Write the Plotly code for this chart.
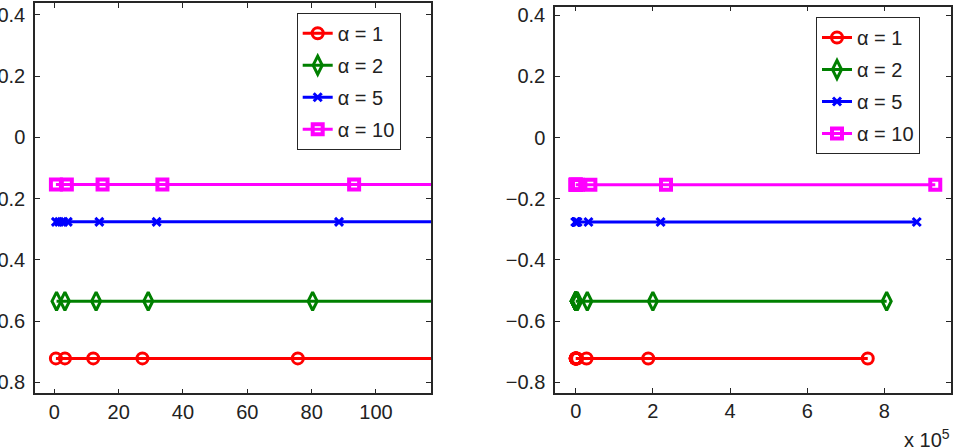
import plotly.graph_objects as go

# ---- data ----
labels = ["α = 1", "α = 2", "α = 5", "α = 10"]
y_levels = [-0.722, -0.535, -0.276, -0.154]

x_a1 = [0.5, 3.3, 12.1, 27.4, 75.7, 520, 3600, 28000, 188000, 757000]
x_a2 = [0.7, 3.3, 13.0, 29.2, 80.3, 600, 4000, 30000, 200000, 806000]
x_a5 = [0.5, 1.5, 2.8, 4.2, 14.0, 31.8, 88.5, 700, 5000, 33000, 220000, 884000]
x_a10 = [0.5, 3.9, 15.0, 33.6, 93.2, 800, 6000, 38000, 234000, 932000]
x_series = [x_a1, x_a2, x_a5, x_a10]

left_xticks = [0, 20, 40, 60, 80, 100]
right_xticks = [0, 200000, 400000, 600000, 800000]
right_xticktext = ["0", "2", "4", "6", "8"]
yticks = [-0.8, -0.6, -0.4, -0.2, 0, 0.2, 0.4]
yticktext = ["-0.8", "-0.6", "-0.4", "-0.2", "0", "0.2", "0.4"]
yticktext_r = ["\u22120.8", "\u22120.6", "\u22120.4", "\u22120.2", "0", "0.2", "0.4"]

# ---- styles ----
colors = ["#FF0000", "#008000", "#0000FF", "#FF00FF"]
symbols = ["circle-open", "diamond-tall-open", "x-thin", "square-open"]
sizes = [11, 13, 8, 10]
mline = [3, 3, 3, 4]
FONT = "Liberation Sans, Arial, Helvetica, sans-serif"
TXT = "#222222"
W, H = 954, 448

fig = go.Figure()
for panel, (xa, ya, lg) in enumerate([("x", "y", "legend"), ("x2", "y2", "legend2")]):
    for i in range(4):
        xs = x_series[i]
        fig.add_trace(go.Scatter(
            x=xs, y=[y_levels[i]] * len(xs),
            mode="lines+markers",
            name=labels[i],
            line=dict(color=colors[i], width=3),
            marker=dict(symbol=symbols[i], size=sizes[i], color=colors[i],
                        line=dict(color=colors[i], width=mline[i])),
            xaxis=xa, yaxis=ya, legend=lg, legendgroup=f"{panel}_{i}",
            showlegend=True, cliponaxis=True,
        ))

axis_common = dict(
    showline=True, linecolor="#262626", linewidth=1.5, mirror="ticks",
    ticks="inside", ticklen=5, tickwidth=1, tickcolor="#262626",
    showgrid=False, zeroline=False, automargin=False,
    tickfont=dict(family=FONT, size=20, color=TXT),
)

legend_common = dict(
    xref="paper", yref="paper", xanchor="left", yanchor="top",
    bgcolor="white", bordercolor="#262626", borderwidth=1,
    font=dict(family=FONT, size=20, color=TXT),
    tracegroupgap=3, traceorder="grouped", entrywidth=80,
)

fig.update_layout(
    width=W, height=H, autosize=False,
    margin=dict(l=0, r=0, t=0, b=0, pad=0, autoexpand=False),
    paper_bgcolor="white", plot_bgcolor="white",
    xaxis=dict(domain=[35 / W, 431 / W], range=[-6.0, 117.1],
               tickvals=left_xticks, anchor="y", **axis_common),
    yaxis=dict(domain=[1 - 393.3 / H, 1 - 3.3 / H], range=[-0.836, 0.438],
               tickvals=yticks, ticktext=yticktext, anchor="x",
               ticklabelstandoff=4, **axis_common),
    xaxis2=dict(domain=[555 / W, 950.7 / W], range=[-53700, 972000],
                tickvals=right_xticks, ticktext=right_xticktext, anchor="y2", **axis_common),
    yaxis2=dict(domain=[1 - 392.7 / H, 1 - 6.7 / H], range=[-0.834, 0.428],
                tickvals=yticks, ticktext=yticktext_r, anchor="x2",
                ticklabelstandoff=4, **axis_common),
    legend=dict(x=296.7 / W, y=1 - 12.7 / H, **legend_common),
    legend2=dict(x=816 / W, y=1 - 17 / H, **legend_common),
    annotations=[dict(
        text="x 10<sup>5</sup>", xref="paper", yref="paper",
        x=902 / W, y=1 - 424 / H, xanchor="left", yanchor="top",
        showarrow=False, font=dict(family=FONT, size=20, color=TXT),
    )],
)

fig.write_html("out.html")
